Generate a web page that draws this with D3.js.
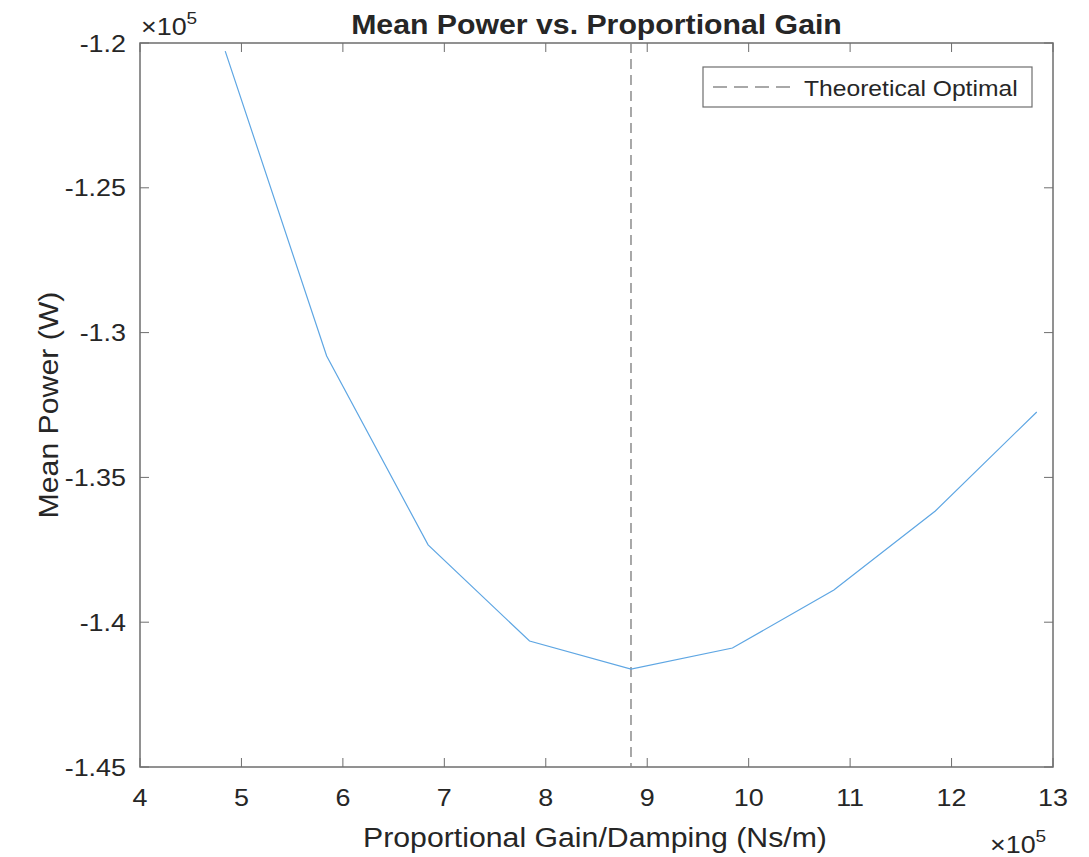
<!DOCTYPE html>
<head>
    <meta charset="utf-8">
    <script src="https://d3js.org/d3.v7.min.js"></script>
    <style>
        *{ margin:0; padding:0; }
        body{ background:#fff; font-family: 'Liberation Sans', Arial, sans-serif; }
        text{ fill:#262626; }
    </style>
</head>
<body>
<svg id="viz"></svg>
<script>

    //data (x in units of 1e5 Ns/m, y in units of 1e5 W)
    let gains = [4.84, 5.84, 6.84, 7.84, 8.84, 9.84, 10.84, 11.84, 12.84];
    let power = [-1.2028, -1.3081, -1.3733, -1.4065, -1.4162, -1.4089, -1.3889, -1.3616, -1.3274];
    let optimalGain = 8.84;
    let xTicks = [4, 5, 6, 7, 8, 9, 10, 11, 12, 13];
    let yTicks = [-1.2, -1.25, -1.3, -1.35, -1.4, -1.45];

    let W = 1089, H = 857;
    let margin = {left: 140, right: 36, top: 43, bottom: 90};

    let svg = d3.select("svg").attr("width", W).attr("height", H);

    let x = d3.scaleLinear().domain([4, 13]).range([margin.left, W - margin.right]);
    let y = d3.scaleLinear().domain([-1.45, -1.2]).range([H - margin.bottom, margin.top]);

    let axisColor = "#6e6e6e";
    let stretch = 1.12; // the reference text is a bit wider than plain Arial

    //box
    svg.append("rect")
        .attr("x", x(4)).attr("y", y(-1.2))
        .attr("width", x(13) - x(4)).attr("height", y(-1.45) - y(-1.2))
        .attr("fill", "none").attr("stroke", axisColor).attr("stroke-width", 1.5);

    //ticks, inward on all four sides
    let tl = 9;
    svg.selectAll("line.xt").data(xTicks).enter().append("line")
        .attr("x1", d => x(d)).attr("x2", d => x(d))
        .attr("y1", y(-1.45)).attr("y2", y(-1.45) - tl)
        .attr("stroke", axisColor);
    svg.selectAll("line.xt2").data(xTicks).enter().append("line")
        .attr("x1", d => x(d)).attr("x2", d => x(d))
        .attr("y1", y(-1.2)).attr("y2", y(-1.2) + tl)
        .attr("stroke", axisColor);
    svg.selectAll("line.yt").data(yTicks).enter().append("line")
        .attr("x1", x(4)).attr("x2", x(4) + tl)
        .attr("y1", d => y(d)).attr("y2", d => y(d))
        .attr("stroke", axisColor);
    svg.selectAll("line.yt2").data(yTicks).enter().append("line")
        .attr("x1", x(13)).attr("x2", x(13) - tl)
        .attr("y1", d => y(d)).attr("y2", d => y(d))
        .attr("stroke", axisColor);

    //tick labels
    svg.selectAll("text.xl").data(xTicks).enter().append("text")
        .attr("class", "st")
        .attr("x", d => x(d)).attr("y", y(-1.45) + 39)
        .attr("text-anchor", "middle").attr("font-size", 24)
        .text(d => d);
    svg.selectAll("text.yl").data(yTicks).enter().append("text")
        .attr("class", "st")
        .attr("x", x(4) - 14).attr("y", d => y(d) + 8.5)
        .attr("text-anchor", "end").attr("font-size", 24)
        .text(d => d);

    //exponent labels
    let expo = (gx, gy) => {
        let t = svg.append("text").attr("x", gx).attr("y", gy).attr("font-size", 24);
        t.append("tspan").text("\u00d710");
        t.append("tspan").attr("dy", -11).attr("font-size", 17).text("5");
        return t;
    };
    expo(x(4) + 1, 35).attr("class", "st");
    expo(990, 853).attr("class", "st");

    //optimal line
    svg.append("line")
        .attr("x1", x(optimalGain)).attr("x2", x(optimalGain))
        .attr("y1", y(-1.2)).attr("y2", y(-1.45))
        .attr("stroke", "#8c8c8c").attr("stroke-width", 1.5)
        .attr("stroke-dasharray", "10,6");

    //data line
    svg.append("path")
        .datum(d3.zip(gains, power))
        .attr("fill", "none").attr("stroke", "#5ea6e3").attr("stroke-width", 1.2)
        .attr("d", d3.line().x(d => x(d[0])).y(d => y(d[1])));

    //legend
    let lg = svg.append("g").attr("transform", "translate(703,67)");
    lg.append("rect").attr("width", 329).attr("height", 40)
        .attr("fill", "#fff").attr("stroke", axisColor).attr("stroke-width", 1.2);
    lg.append("line").attr("x1", 10).attr("x2", 93).attr("y1", 20).attr("y2", 20)
        .attr("stroke", "#8c8c8c").attr("stroke-width", 1.5).attr("stroke-dasharray", "14,7");
    lg.append("text").attr("x", 101).attr("y", 28.5).attr("font-size", 22)
        .attr("fill", "#1a1a33").attr("class", "st").text("Theoretical Optimal");

    //titles
    svg.append("text").attr("x", (x(4) + x(13)) / 2).attr("y", 34)
        .attr("class", "st")
        .attr("text-anchor", "middle").attr("font-size", 27).attr("font-weight", "bold")
        .attr("fill", "#000").text("Mean Power vs. Proportional Gain");
    svg.append("text").attr("x", 595).attr("y", 847)
        .attr("class", "st")
        .attr("text-anchor", "middle").attr("font-size", 27)
        .text("Proportional Gain/Damping (Ns/m)");
    svg.append("text")
        .attr("class", "st")
        .attr("transform", "translate(58," + ((y(-1.2) + y(-1.45)) / 2) + ") rotate(-90)")
        .attr("text-anchor", "middle").attr("font-size", 27)
        .text("Mean Power (W)");

    //widen text to match the reference rendering
    svg.selectAll("text.st").each(function() {
        let len = this.getComputedTextLength();
        d3.select(this).attr("textLength", len * stretch).attr("lengthAdjust", "spacingAndGlyphs");
    });

</script>
</body>
